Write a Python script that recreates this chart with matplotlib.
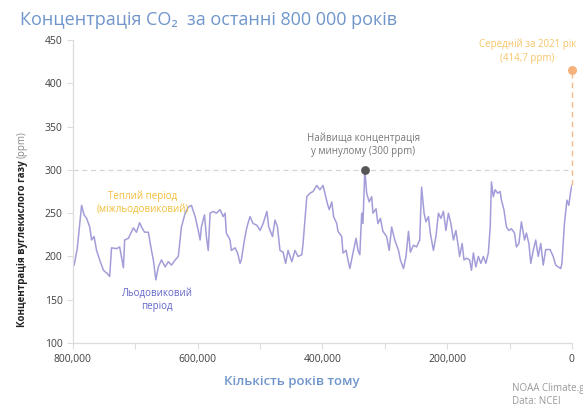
import numpy as np
import matplotlib.pyplot as plt
from matplotlib.ticker import MultipleLocator, FuncFormatter

plt.rcParams['font.family'] = ['Open Sans', 'DejaVu Sans']

# CO2 record: thousands of years ago, ppm
kyr_ago = [798, 793, 786, 782, 778, 773, 770, 766, 762, 757, 751, 746, 741, 738,
           730, 725, 719, 717, 711, 703, 698, 693, 690, 685, 679, 674, 671, 667,
           663, 658, 652, 647, 642, 636, 631, 626, 620, 615, 610, 604, 599, 596,
           594, 589, 586, 583, 580, 575, 570, 564, 559, 556, 554, 548, 546, 540,
           536, 532, 530, 525, 521, 516, 511, 505, 500, 495, 489, 486, 480, 476,
           472, 468, 463, 459, 455, 449, 444, 439, 433, 431, 425, 420, 415, 409,
           404, 399, 396, 392, 389, 385, 382, 377, 375, 369, 367, 362, 359, 356,
           351, 346, 343, 340, 337, 335, 332, 329, 325, 321, 319, 314, 311, 307,
           303, 297, 293, 289, 284, 278, 275, 270, 266, 262, 259, 254, 249, 244,
           241, 237, 234, 230, 227, 222, 218, 214, 210, 206, 202, 198, 194, 190,
           186, 182, 180, 176, 173, 169, 164, 161, 158, 154, 150, 146, 142, 138,
           134, 131, 129, 126, 123, 119, 115, 113, 109, 105, 101, 97, 92, 89, 85,
           81, 76, 73, 69, 66, 62, 58, 54, 50, 46, 42, 35, 30, 26, 22, 18, 16, 12,
           8, 5, 2, 0]
co2_ppm = [190, 209, 259, 248, 244, 234, 219, 223, 207, 196, 184, 181, 177, 210,
           209, 211, 187, 219, 221, 233, 228, 239, 234, 228, 228, 207, 196, 173,
           188, 196, 188, 194, 190, 196, 200, 234, 250, 257, 259, 246, 230, 219,
           234, 248, 223, 207, 250, 252, 250, 254, 246, 250, 227, 219, 207, 210,
           204, 192, 196, 219, 234, 246, 238, 236, 230, 238, 252, 234, 223, 242,
           234, 207, 205, 192, 207, 194, 207, 200, 202, 215, 269, 273, 275, 282,
           277, 282, 273, 261, 254, 263, 246, 238, 229, 223, 204, 207, 196, 186,
           204, 221, 207, 202, 250, 238, 300, 273, 263, 269, 250, 255, 238, 244,
           229, 223, 207, 234, 219, 207, 196, 186, 200, 229, 205, 213, 211, 219,
           280, 250, 240, 246, 227, 207, 223, 250, 244, 252, 230, 250, 238, 219,
           230, 211, 200, 215, 196, 198, 196, 184, 204, 188, 200, 192, 200, 192,
           204, 234, 286, 269, 277, 273, 275, 265, 254, 234, 230, 232, 227, 211,
           215, 240, 219, 227, 215, 192, 207, 219, 200, 215, 190, 208, 208, 200,
           190, 188, 186, 192, 238, 265, 259, 275, 282]

peak_year, peak_ppm = 332000, 300
now_ppm = 414.7
x_ticks = [800000, 600000, 400000, 200000, 0]

years = np.array(kyr_ago) * 1000

title_blue = '#6f95cb'
line_col = '#a29dd9'
axis_col = '#dcdcdc'

fig = plt.figure(figsize=(5.83, 4.07), dpi=100)
ax = fig.add_axes([0.125, 0.157, 0.856, 0.745])

ax.plot(years, co2_ppm, color=line_col, linewidth=1.1)

# 300 ppm reference line and the markers
ax.axhline(300, color='#d6d6d6', linestyle=(0, (4, 3)), linewidth=0.9, zorder=1)
ax.plot([0, 0], [co2_ppm[-1], now_ppm], color='#f7b98a',
        linestyle=(0, (4, 3)), linewidth=1.0, clip_on=False)
ax.scatter([peak_year], [peak_ppm], s=28, color='#555555', zorder=5)
ax.scatter([0], [now_ppm], s=30, color='#f6b27d', zorder=5, clip_on=False)

ax.set_xlim(800000, 0)
ax.set_ylim(100, 450)
ax.set_xticks(x_ticks)
ax.xaxis.set_minor_locator(MultipleLocator(100000))
ax.xaxis.set_major_formatter(FuncFormatter(lambda v, p: f'{int(v):,}'))
ax.yaxis.set_major_locator(MultipleLocator(50))

for s in ['top', 'right']:
    ax.spines[s].set_visible(False)
for s in ['left', 'bottom']:
    ax.spines[s].set_color(axis_col)
    ax.spines[s].set_linewidth(0.9)
ax.tick_params(axis='both', which='both', colors=axis_col, labelcolor='#404040',
               labelsize=7.5, length=4, width=0.8)
ax.tick_params(axis='x', pad=4)

# annotations
ax.annotate('Найвища концентрація\nу минулому (300 ppm)', xy=(peak_year, peak_ppm),
            xytext=(-1, 9), textcoords='offset points', ha='center', va='bottom',
            fontsize=7, color='#777777', linespacing=1.3)
ax.annotate('Середній за 2021 рік\n(414,7 ppm)', xy=(0, now_ppm),
            xytext=(-32, 5), textcoords='offset points', ha='center', va='bottom',
            fontsize=7, color='#f7c56a', linespacing=1.3)
ax.text(688000, 262, 'Теплий період\n(міжльодовиковий)', ha='center', va='center',
        fontsize=7, color='#f2bf3a', linespacing=1.3)
ax.text(665000, 150, 'Льодовиковий\nперіод', ha='center', va='center',
        fontsize=7, color='#6366c9', linespacing=1.3)

fig.text(0.035, 0.952, 'Концентрація CO₂  за останні 800 000 років',
         fontsize=13, color=title_blue, ha='left', va='center')
fig.text(292 / 583, 1 - 381 / 407, 'Кількість років тому', fontsize=9.5,
         color=title_blue, fontweight='semibold', ha='center', va='center')
fig.text(512 / 583, 1 - 395 / 407, 'NOAA Climate.gov\nData: NCEI', fontsize=7,
         color='#999999', ha='left', va='center', linespacing=1.3)

t1 = fig.text(22 / 583, 1 - 327 / 407, 'Концентрація вуглекислого газу ', rotation=90,
              fontsize=7, fontweight='bold', color='#222222', ha='center', va='bottom')
fig.canvas.draw()
ax.annotate('(ppm)', xy=(0, 1), xycoords=t1, rotation=90, fontsize=7,
            color='#8a8a8a', ha='left', va='bottom', annotation_clip=False)

fig.savefig('out.png', dpi=100)
